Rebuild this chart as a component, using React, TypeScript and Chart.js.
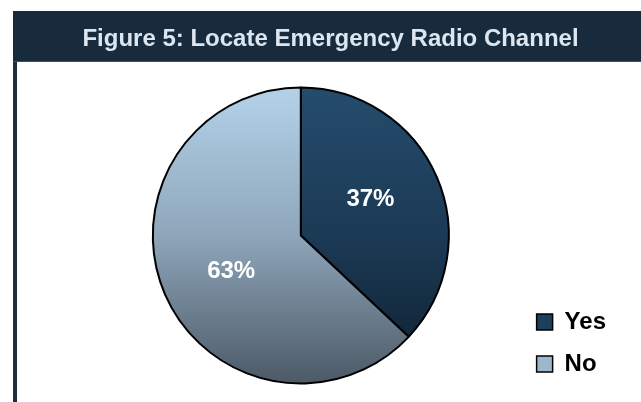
import React, { useEffect, useRef } from "react";
import { Chart, registerables } from "chart.js";

Chart.register(...registerables);

const titleText = "Figure 5: Locate Emergency Radio Channel";
const categories = ["Yes", "No"];
const values = [37, 63];
const gradientStops: string[][] = [
  ["#254c6d", "#1b3a55", "#0f1f2e"],
  ["#b3d2e9", "#8ea6ba", "#4c5966"],
];
const legendColors = ["#1e3f5c", "#9db7cc"];

const FONT = 'Arial, "Liberation Sans", sans-serif';
const RADIUS = 148;

const framePlugin = {
  id: "frame",
  beforeDraw(chart: any) {
    const ctx = chart.ctx;
    ctx.save();
    ctx.fillStyle = "#ffffff";
    ctx.fillRect(0, 0, chart.width, chart.height);
    ctx.fillStyle = "#172b3c";
    ctx.fillRect(13, 11, chart.width - 13, 51);
    ctx.fillStyle = "#3c5060";
    ctx.fillRect(13, 61, chart.width - 13, 1);
    ctx.fillStyle = "#1a2f40";
    ctx.fillRect(13, 62, 4, chart.height - 62);
    ctx.fillStyle = "#dce6f0";
    ctx.font = "bold 24px " + FONT;
    ctx.textAlign = "center";
    ctx.textBaseline = "alphabetic";
    ctx.fillText(titleText, 330.5, 46);
    ctx.restore();
  },
};

const labelPlugin = {
  id: "sliceLabels",
  afterDatasetsDraw(chart: any) {
    const ctx = chart.ctx;
    const meta = chart.getDatasetMeta(0);
    ctx.save();
    ctx.fillStyle = "#ffffff";
    ctx.font = "bold 24px " + FONT;
    ctx.textAlign = "center";
    ctx.textBaseline = "middle";
    meta.data.forEach((el: any, i: number) => {
      const mid = (el.startAngle + el.endAngle) / 2 - 0.07;
      const r = el.outerRadius * 0.53;
      ctx.fillText(values[i] + "%", el.x + Math.cos(mid) * r, el.y + Math.sin(mid) * r);
    });
    ctx.restore();
  },
};

export default function App() {
  const ref = useRef<HTMLCanvasElement | null>(null);
  useEffect(() => {
    if (!ref.current) return;
    const chart = new Chart(ref.current, {
      type: "pie",
      data: {
        labels: categories,
        datasets: [
          {
            data: values,
            backgroundColor: (c: any) => {
              const area = c.chart.chartArea;
              const stops = gradientStops[c.dataIndex] || gradientStops[0];
              if (!area) return stops[1];
              const cy = (area.top + area.bottom) / 2;
              const g = c.chart.ctx.createLinearGradient(0, cy - RADIUS, 0, cy + RADIUS);
              g.addColorStop(0, stops[0]);
              g.addColorStop(0.5, stops[1]);
              g.addColorStop(1, stops[2]);
              return g;
            },
            borderColor: "#000000",
            borderWidth: 2,
            radius: RADIUS,
          } as any,
        ],
      },
      options: {
        responsive: false,
        animation: false,
        devicePixelRatio: 1,
        layout: { padding: { left: 83, right: 25, top: 77, bottom: 8 } },
        plugins: {
          title: { display: false },
          tooltip: { enabled: false },
          legend: {
            display: true,
            position: "right",
            align: "end",
            labels: {
              boxWidth: 16,
              boxHeight: 16,
              padding: 18,
              color: "#000000",
              font: { family: FONT, size: 24, weight: "bold" },
              generateLabels: () =>
                categories.map((t, i) => ({
                  text: t,
                  fillStyle: legendColors[i],
                  strokeStyle: "#000000",
                  lineWidth: 1.5,
                  hidden: false,
                  index: i,
                })),
            },
          },
        },
      } as any,
      plugins: [framePlugin, labelPlugin],
    });
    return () => chart.destroy();
  }, []);
  return (
    <div style={{ position: "fixed", left: 0, top: 0, width: 641, height: 402 }}>
      <canvas ref={ref} width={641} height={402} style={{ display: "block" }} />
    </div>
  );
}
